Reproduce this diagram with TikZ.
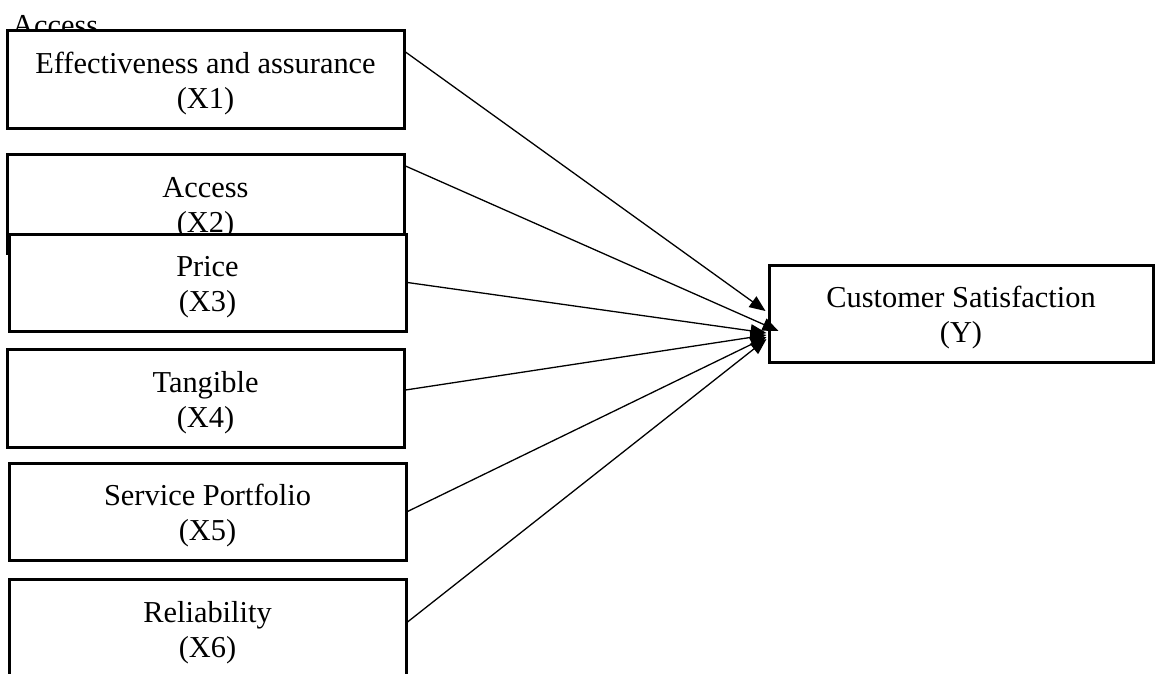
\documentclass[tikz,border=0pt]{standalone}
\usepackage{fontspec}
\setmainfont{Liberation Serif}
\usetikzlibrary{arrows.meta}
\begin{document}
\begin{tikzpicture}[x=1pt,y=-1pt,
  box/.style={draw=black,fill=white,line width=3pt,rectangle,inner sep=0pt,
    minimum width=397pt,minimum height=98pt,align=center,
    font=\fontsize{30.4}{35}\selectfont,text height=60pt,text depth=2pt},
  conn/.style={line width=1.3pt,-{Triangle[length=16pt,width=13pt]}},
  stray/.style={font=\fontsize{30.4}{35}\selectfont,inner sep=0pt,anchor=base west}]
\useasboundingbox (0,0) rectangle (1155,673);
\node[stray] (acc) at (12,35) {Access};
\node[box] (x1) at (205.5,79) {Effectiveness and assurance\\(X1)};
\node[box,minimum height=99pt] (x2) at (205.5,203.5) {Access\\(X2)};
\node[box,minimum height=97pt] (x3) at (207.5,282.5) {Price\\(X3)};
\node[box] (x4) at (205.5,398) {Tangible\\(X4)};
\node[box,minimum height=97pt] (x5) at (207.5,511.5) {Service Portfolio\\(X5)};
\node[box] (x6) at (207.5,628) {Reliability\\(X6)};
\node[box,minimum width=384pt,minimum height=97pt] (y) at (961,313.5) {Customer Satisfaction\\(Y)};
\draw[conn] ([yshift=27pt]x1.east) -- ([xshift=-2pt,yshift=2.5pt]y.west);
\draw[conn] ([yshift=37.5pt]x2.east) -- ([xshift=11pt,yshift=-17.5pt]y.west);
\draw[conn] (x3.east) -- ([xshift=-1pt,yshift=-19.5pt]y.west);
\draw[conn] ([yshift=8pt]x4.east) -- ([xshift=-1pt,yshift=-21.5pt]y.west);
\draw[conn] (x5.east) -- ([xshift=-1pt,yshift=-23.5pt]y.west);
\draw[conn] ([yshift=6pt]x6.east) -- ([xshift=-1pt,yshift=-25.5pt]y.west);
\end{tikzpicture}
\end{document}
